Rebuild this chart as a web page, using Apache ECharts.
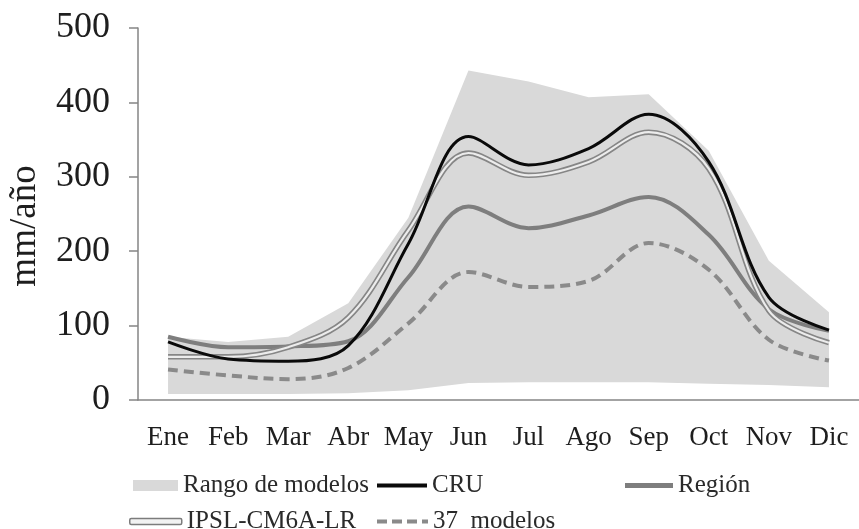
<!DOCTYPE html>
<html>
<head>
<meta charset="utf-8">
<script src="https://cdn.jsdelivr.net/npm/echarts@6/dist/echarts.min.js"></script>
<style>
  html, body { margin: 0; padding: 0; background: #fff; }
  #chart { width: 859px; height: 529px; }
</style>
</head>
<body>
<div id="chart"></div>
<script>
// Monthly precipitation (mm/año): observations, regional mean and model ensemble
const months   = ['Ene', 'Feb', 'Mar', 'Abr', 'May', 'Jun', 'Jul', 'Ago', 'Sep', 'Oct', 'Nov', 'Dic'];
const rangeMin = [8, 8, 8, 9, 13, 23, 24, 24, 24, 22, 20, 17];
const rangeMax = [85, 78, 85, 130, 245, 443, 428, 407, 411, 335, 187, 118];
const cru      = [78, 55, 52, 73, 210, 354, 316, 338, 384, 320, 138, 94];
const region   = [85, 71, 72, 79, 165, 260, 231, 248, 273, 222, 122, 93];
const ipsl     = [58, 58, 71, 111, 228, 332, 302, 320, 360, 311, 120, 77];
const models37 = [41, 33, 28, 43, 103, 172, 152, 160, 211, 175, 81, 53];

const FONT = 'Liberation Serif';
const AXIS_GRAY = '#858585';
const TEXT = '#1e1e1e';
const SMOOTH = 0.35;

const rangeSpan = rangeMax.map((v, i) => v - rangeMin[i]);

function legendItem(name, left, top, w, h, extra) {
  return {
    left: left, top: top, padding: 0,
    itemWidth: w, itemHeight: h,
    selectedMode: false,
    textStyle: { fontFamily: FONT, fontSize: 25, color: '#2a2a2a' },
    data: [Object.assign({ name: name }, extra || {})]
  };
}

const chart = echarts.init(document.getElementById('chart'), null, { renderer: 'canvas' });

chart.setOption({
  animation: false,
  backgroundColor: '#ffffff',
  grid: { left: 138, right: -8, top: 28, bottom: 129, containLabel: false },
  xAxis: {
    type: 'category',
    data: months,
    boundaryGap: true,
    axisLine: { lineStyle: { color: AXIS_GRAY, width: 1.5 } },
    axisTick: { length: 8, lineStyle: { color: AXIS_GRAY, width: 1.5 } },
    axisLabel: { fontFamily: FONT, fontSize: 27, color: TEXT, margin: 24, interval: 0 },
    splitLine: { show: false }
  },
  yAxis: {
    type: 'value',
    min: 0, max: 500, interval: 100,
    axisLine: { show: true, lineStyle: { color: AXIS_GRAY, width: 1.5 } },
    axisTick: { show: true, length: 9, lineStyle: { color: AXIS_GRAY, width: 1.5 } },
    axisLabel: { fontFamily: FONT, fontSize: 36, color: TEXT, margin: 28 },
    splitLine: { show: false }
  },
  graphic: [{
    type: 'text',
    x: 25, y: 226,
    rotation: Math.PI / 2,
    style: {
      text: 'mm/año',
      fontFamily: FONT, fontSize: 37, fill: TEXT,
      align: 'center', verticalAlign: 'middle'
    }
  }],
  legend: [
    legendItem('Rango de modelos', 133, 473, 45, 11, { icon: 'rect', itemStyle: { color: '#d9d9d9' } }),
    legendItem('CRU', 377, 473, 50, 4, { icon: 'rect', itemStyle: { color: '#0a0a0a' } }),
    legendItem('Región', 625, 473, 48, 5, { icon: 'rect', itemStyle: { color: '#7e7e7e' } }),
    legendItem('IPSL-CM6A-LR', 129, 509, 52, 6, {
      icon: 'roundRect',
      itemStyle: { color: '#f2f2f2', borderColor: '#7c7c7c', borderWidth: 1.5 }
    }),
    legendItem('37  modelos', 377, 509, 51, 4, {
      icon: 'path://M0,0H10V4H0Z M15,0H25V4H15Z M30,0H40V4H30Z M45,0H51V4H45Z',
      itemStyle: { color: '#8a8a8a' }
    })
  ],
  series: [
    {
      name: 'rangeBase', type: 'line', stack: 'range', data: rangeMin,
      symbol: 'none', silent: true, lineStyle: { opacity: 0 }, z: 1
    },
    {
      name: 'Rango de modelos', type: 'line', stack: 'range', data: rangeSpan,
      symbol: 'none', silent: true, color: '#d9d9d9',
      lineStyle: { opacity: 0 },
      areaStyle: { color: '#d9d9d9', opacity: 1 }, z: 1
    },
    {
      name: '37  modelos', type: 'line', data: models37, smooth: SMOOTH, symbol: 'none',
      color: '#8a8a8a',
      lineStyle: { color: '#8a8a8a', width: 4, type: [10, 6] }, z: 3
    },
    {
      name: 'Región', type: 'line', data: region, smooth: SMOOTH, symbol: 'none',
      color: '#7e7e7e',
      lineStyle: { color: '#7e7e7e', width: 4 }, z: 4
    },
    {
      name: 'IPSL-CM6A-LR', type: 'line', data: ipsl, smooth: SMOOTH, symbol: 'none',
      color: '#868686',
      lineStyle: { color: '#868686', width: 5.5 }, z: 5
    },
    {
      name: 'ipslCore', type: 'line', data: ipsl, smooth: SMOOTH, symbol: 'none',
      silent: true, color: '#ececec',
      lineStyle: { color: '#ececec', width: 2.2 }, z: 6
    },
    {
      name: 'CRU', type: 'line', data: cru, smooth: SMOOTH, symbol: 'none',
      color: '#0a0a0a',
      lineStyle: { color: '#0a0a0a', width: 3 }, z: 7
    }
  ]
});
</script>
</body>
</html>
